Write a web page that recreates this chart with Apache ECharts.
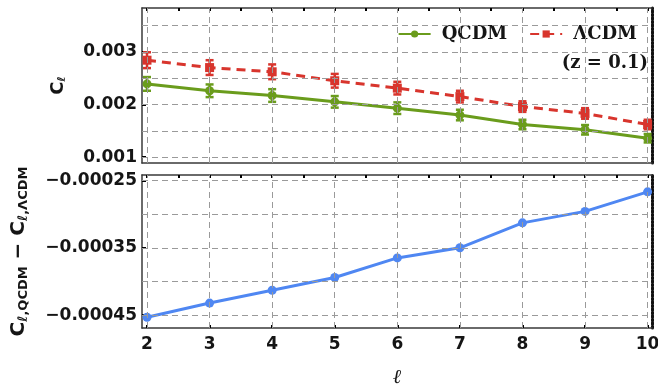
<!DOCTYPE html>
<html>
<head>
<meta charset="utf-8">
<script src="https://cdn.jsdelivr.net/npm/echarts@6/dist/echarts.min.js"></script>
<style>
  html, body { margin: 0; padding: 0; background: #fff; }
  #main { width: 658px; height: 385px; }
</style>
</head>
<body>
<div id="main"></div>
<script>
// multipoles
var ells = [2, 3, 4, 5, 6, 7, 8, 9, 10];
// C_l values
var qcdm = [0.00239, 0.00226, 0.00217, 0.00205, 0.00193, 0.00180, 0.00162, 0.00152, 0.00136];
var lcdm = [0.00284, 0.00270, 0.00262, 0.00245, 0.00231, 0.00215, 0.00196, 0.00183, 0.00162];
var qcdmErr = [0.00013, 0.00012, 0.00012, 0.00011, 0.00011, 0.00010, 0.00009, 0.00009, 0.00008];
var lcdmErr = [0.00015, 0.00014, 0.00014, 0.00013, 0.00012, 0.00011, 0.00010, 0.00010, 0.00009];
// difference panel
var diff = [-0.000453, -0.000432, -0.000413, -0.000394, -0.000365, -0.000350, -0.000313, -0.000296, -0.000267];

// ticks / grid lines
var xTicks = [2, 3, 4, 5, 6, 7, 8, 9, 10];
var xHalfTicks = [2, 2.5, 3, 3.5, 4, 4.5, 5, 5.5, 6, 6.5, 7, 7.5, 8, 8.5, 9, 9.5, 10];
var clTicks = [0.001, 0.002, 0.003];
var clGrid = [0.001, 0.0015, 0.002, 0.0025, 0.003, 0.0035];
var diffTicks = [-0.00045, -0.00035, -0.00025];
var diffGrid = [-0.00045, -0.0004, -0.00035, -0.0003, -0.00025];

var X_MIN = 1.92, X_MAX = 10.07;
var CL_MIN = 0.00089, CL_MAX = 0.00383;
var D_MIN = -0.000469, D_MAX = -0.000242;

var GREEN = '#6a9c1c', RED = '#d8352d', BLUE = '#4f87f2';
var FRAME = '#3a3a3a';
var labelFont = { fontFamily: 'DejaVu Sans', fontWeight: 'bold', fontSize: 17, color: '#151515' };

function pairs(ys) { return ells.map(function (x, i) { return [x, ys[i]]; }); }
function errData(ys, es) { return ells.map(function (x, i) { return [x, ys[i] - es[i], ys[i] + es[i]]; }); }

function errItem(params, api) {
  var x = api.value(0);
  var p1 = api.coord([x, api.value(1)]);
  var p2 = api.coord([x, api.value(2)]);
  var w = 4;
  var st = { stroke: api.visual('color'), lineWidth: 2.5 };
  return {
    type: 'group',
    children: [
      { type: 'line', shape: { x1: p1[0], y1: p1[1], x2: p2[0], y2: p2[1] }, style: st },
      { type: 'line', shape: { x1: p1[0] - w, y1: p1[1], x2: p1[0] + w, y2: p1[1] }, style: st },
      { type: 'line', shape: { x1: p2[0] - w, y1: p2[1], x2: p2[0] + w, y2: p2[1] }, style: st }
    ]
  };
}

// dashed grid drawn as mark lines, each given by its two end points
function gridMarkLine(xs, ys, yMin, yMax) {
  var lines = [];
  xs.forEach(function (v) { lines.push([{ coord: [v, yMin] }, { coord: [v, yMax] }]); });
  ys.forEach(function (v) { lines.push([{ coord: [X_MIN, v] }, { coord: [X_MAX, v] }]); });
  return {
    silent: true,
    symbol: ['none', 'none'],
    label: { show: false },
    lineStyle: { color: '#9a9a9a', type: [6, 4], width: 1 },
    emphasis: { disabled: true },
    animation: false,
    data: lines
  };
}

function frameX(gi, pos, ticks, showLabel) {
  return {
    type: 'value', gridIndex: gi, position: pos, min: X_MIN, max: X_MAX,
    axisLine: { show: true, onZero: false, lineStyle: { color: FRAME, width: 1.5 } },
    axisTick: { show: ticks.length > 0, inside: true, length: 3, customValues: ticks, lineStyle: { color: '#000', width: 2 } },
    axisLabel: Object.assign({ show: showLabel, customValues: xTicks, margin: 8, formatter: function (v) { return String(v); } }, labelFont),
    splitLine: { show: false }
  };
}

var myChart = echarts.init(document.getElementById('main'));

myChart.setOption({
  animation: false,
  grid: [
    { left: 142, top: 8, width: 510, height: 155, outerBoundsMode: 'none' },
    { left: 142, top: 175, width: 510, height: 153, outerBoundsMode: 'none' }
  ],
  legend: {
    data: ['QCDM', 'ΛCDM'],
    top: 20, right: 16,
    itemWidth: 32, itemHeight: 9, itemGap: 22,
    textStyle: { fontFamily: 'DejaVu Serif', fontWeight: 'bold', fontSize: 18, color: '#151515', padding: [0, 0, 0, 6] }
  },
  graphic: [
    {
      type: 'text', right: 10, top: 54,
      style: { text: '(z = 0.1)', font: 'bold 18px "DejaVu Serif"', fill: '#151515' }
    }
  ],
  xAxis: [
    frameX(0, 'bottom', [], false),
    frameX(0, 'top', xHalfTicks, false),
    Object.assign(frameX(1, 'bottom', xTicks, true), {
      name: 'ℓ', nameLocation: 'middle', nameGap: 40,
      nameTextStyle: { fontFamily: 'DejaVu Serif', fontStyle: 'italic', fontSize: 20, color: '#151515' }
    }),
    frameX(1, 'top', xHalfTicks, false)
  ],
  yAxis: [
    {
      type: 'value', gridIndex: 0, position: 'left', min: CL_MIN, max: CL_MAX,
      name: '{c|C}{s|ℓ}', nameLocation: 'middle', nameGap: 74,
      nameTextStyle: {
        rich: {
          c: { fontFamily: 'DejaVu Sans', fontWeight: 'bold', fontSize: 18, color: '#151515' },
          s: { fontFamily: 'DejaVu Sans', fontWeight: 'bold', fontSize: 11, color: '#151515', padding: [8, 0, 0, 0] }
        }
      },
      axisLine: { show: true, onZero: false, lineStyle: { color: FRAME, width: 1.5 } },
      axisTick: { show: true, inside: true, length: 4, customValues: clTicks, lineStyle: { color: '#000', width: 2 } },
      axisLabel: Object.assign({ customValues: clTicks, margin: 5, formatter: function (v) { return v.toFixed(3); } }, labelFont),
      splitLine: { show: false }
    },
    {
      type: 'value', gridIndex: 0, position: 'right', min: CL_MIN, max: CL_MAX,
      axisLine: { show: true, onZero: false, lineStyle: { color: '#111', width: 3, type: [2, 1.5] } },
      axisTick: { show: false }, axisLabel: { show: false }, splitLine: { show: false }
    },
    {
      type: 'value', gridIndex: 1, position: 'left', min: D_MIN, max: D_MAX,
      name: '{c|C}{s|ℓ,QCDM}{c| − C}{s|ℓ,ΛCDM}', nameLocation: 'middle', nameGap: 112,
      nameTextStyle: {
        rich: {
          c: { fontFamily: 'DejaVu Sans', fontWeight: 'bold', fontSize: 20, color: '#151515' },
          s: { fontFamily: 'DejaVu Sans', fontWeight: 'bold', fontSize: 13, color: '#151515', padding: [9, 0, 0, 0] }
        }
      },
      axisLine: { show: true, onZero: false, lineStyle: { color: FRAME, width: 1.5 } },
      axisTick: { show: true, inside: true, length: 4, customValues: diffTicks, lineStyle: { color: '#000', width: 2 } },
      axisLabel: Object.assign({ customValues: diffTicks, margin: 5, formatter: function (v) { return '\u2212' + Math.abs(v).toFixed(5); } }, labelFont),
      splitLine: { show: false }
    },
    {
      type: 'value', gridIndex: 1, position: 'right', min: D_MIN, max: D_MAX,
      axisLine: { show: true, onZero: false, lineStyle: { color: '#111', width: 3, type: [2, 1.5] } },
      axisTick: { show: false }, axisLabel: { show: false }, splitLine: { show: false }
    }
  ],
  series: [
    {
      name: 'grid-top', type: 'line', xAxisIndex: 0, yAxisIndex: 0, data: [], z: 1,
      markLine: gridMarkLine(xTicks, clGrid, CL_MIN, CL_MAX)
    },
    {
      name: 'grid-bottom', type: 'line', xAxisIndex: 2, yAxisIndex: 2, data: [], z: 1,
      markLine: gridMarkLine(xTicks, diffGrid, D_MIN, D_MAX)
    },
    {
      name: 'ΛCDM', type: 'line', xAxisIndex: 0, yAxisIndex: 0, data: pairs(lcdm), z: 3,
      symbol: 'rect', symbolSize: 9,
      itemStyle: { color: RED },
      lineStyle: { color: RED, width: 3, type: [9, 6] }
    },
    {
      name: 'lcdm-err', type: 'custom', xAxisIndex: 0, yAxisIndex: 0, data: errData(lcdm, lcdmErr), z: 4,
      itemStyle: { color: RED }, renderItem: errItem
    },
    {
      name: 'QCDM', type: 'line', xAxisIndex: 0, yAxisIndex: 0, data: pairs(qcdm), z: 3,
      symbol: 'circle', symbolSize: 9,
      itemStyle: { color: GREEN },
      lineStyle: { color: GREEN, width: 3 }
    },
    {
      name: 'qcdm-err', type: 'custom', xAxisIndex: 0, yAxisIndex: 0, data: errData(qcdm, qcdmErr), z: 4,
      itemStyle: { color: GREEN }, renderItem: errItem
    },
    {
      name: 'diff', type: 'line', xAxisIndex: 2, yAxisIndex: 2, data: pairs(diff), z: 3,
      symbol: 'circle', symbolSize: 9,
      itemStyle: { color: BLUE },
      lineStyle: { color: BLUE, width: 3 }
    }
  ]
});
</script>
</body>
</html>
